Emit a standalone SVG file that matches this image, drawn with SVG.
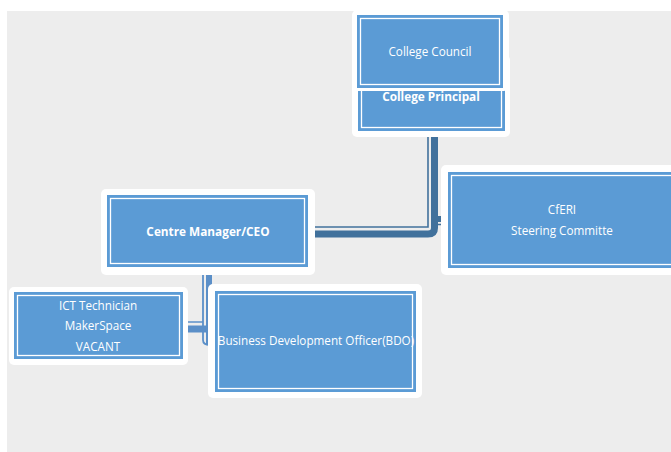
<svg xmlns="http://www.w3.org/2000/svg" width="671" height="452" viewBox="0 0 671 452">
<style>
.bg{fill:#EDEDED}
.halo{fill:#FFFFFF}
.box{fill:#5B9BD5}
.inner{fill:none;stroke:#FFFFFF;stroke-width:1.3}
.t{font-family:"Open Sans","Liberation Sans",sans-serif;font-size:11.7px;fill:#FFFFFF;text-anchor:middle}
.b{font-weight:bold;font-size:11.8px}
.cd{fill:none;stroke:#41719C}
.cl{fill:none;stroke:#5B8FC8}
</style>
<rect class="bg" x="7" y="11" width="664" height="441"/>
<g id="connectors">
<path class="cd" d="M434.5,137 V228 Q434.5,234 428,234 H315" stroke-width="7"/>
<path class="cd" d="M428,137 V227 H315" stroke-width="1.6"/>
<path class="cd" d="M434,219 H443" stroke-width="6"/>
<path class="cd" d="M434,224.5 H443" stroke-width="1.5"/>
<path class="cl" d="M209,275 V345" stroke-width="6"/>
<path class="cl" d="M203,275 V340 Q203,345 210,345" stroke-width="1.8"/>
<path class="cl" d="M187,329 H209" stroke-width="7"/>
<path class="cl" d="M187,322 H203" stroke-width="1.5"/>
</g>
<g id="principal">
<rect class="halo" x="352" y="55" width="158" height="82" rx="5"/>
<rect class="box" x="358" y="60" width="147" height="71"/>
<rect class="inner" x="361.5" y="63.5" width="140" height="64"/>
<text class="t b" x="431" y="101">College Principal</text>
</g>
<g id="council">
<rect class="halo" x="352" y="10" width="157" height="81" rx="5"/>
<rect class="box" x="357" y="15" width="146" height="73"/>
<rect class="inner" x="360.5" y="18.5" width="139" height="66"/>
<text class="t" x="430" y="56">College Council</text>
</g>
<g id="ceo">
<rect class="halo" x="101" y="189" width="214" height="86" rx="5"/>
<rect class="box" x="107" y="195" width="201" height="72"/>
<rect class="inner" x="110.5" y="198.5" width="194" height="65"/>
<text class="t b" x="208" y="236">Centre Manager/CEO</text>
</g>
<g id="cferi">
<rect class="halo" x="441" y="165" width="240" height="110" rx="5"/>
<rect class="box" x="448" y="172" width="230" height="96"/>
<rect class="inner" x="451.5" y="175.5" width="230" height="89"/>
<text class="t" x="562" y="214">CfERI</text>
<text class="t" x="562" y="235">Steering Committe</text>
</g>
<g id="ict">
<rect class="halo" x="9" y="287" width="179" height="78" rx="5"/>
<rect class="box" x="14" y="292" width="169" height="67"/>
<rect class="inner" x="17.5" y="295.5" width="162" height="60"/>
<text class="t" x="98" y="310">ICT Technician</text>
<text class="t" x="98" y="330">MakerSpace</text>
<text class="t" x="98" y="351">VACANT</text>
</g>
<g id="bdo">
<rect class="halo" x="208" y="284" width="214" height="114" rx="5"/>
<rect class="box" x="215" y="291" width="201" height="101"/>
<rect class="inner" x="218.5" y="294.5" width="194" height="94"/>
<text class="t" x="316" y="345">Business Development Officer(BDO)</text>
</g>
</svg>
